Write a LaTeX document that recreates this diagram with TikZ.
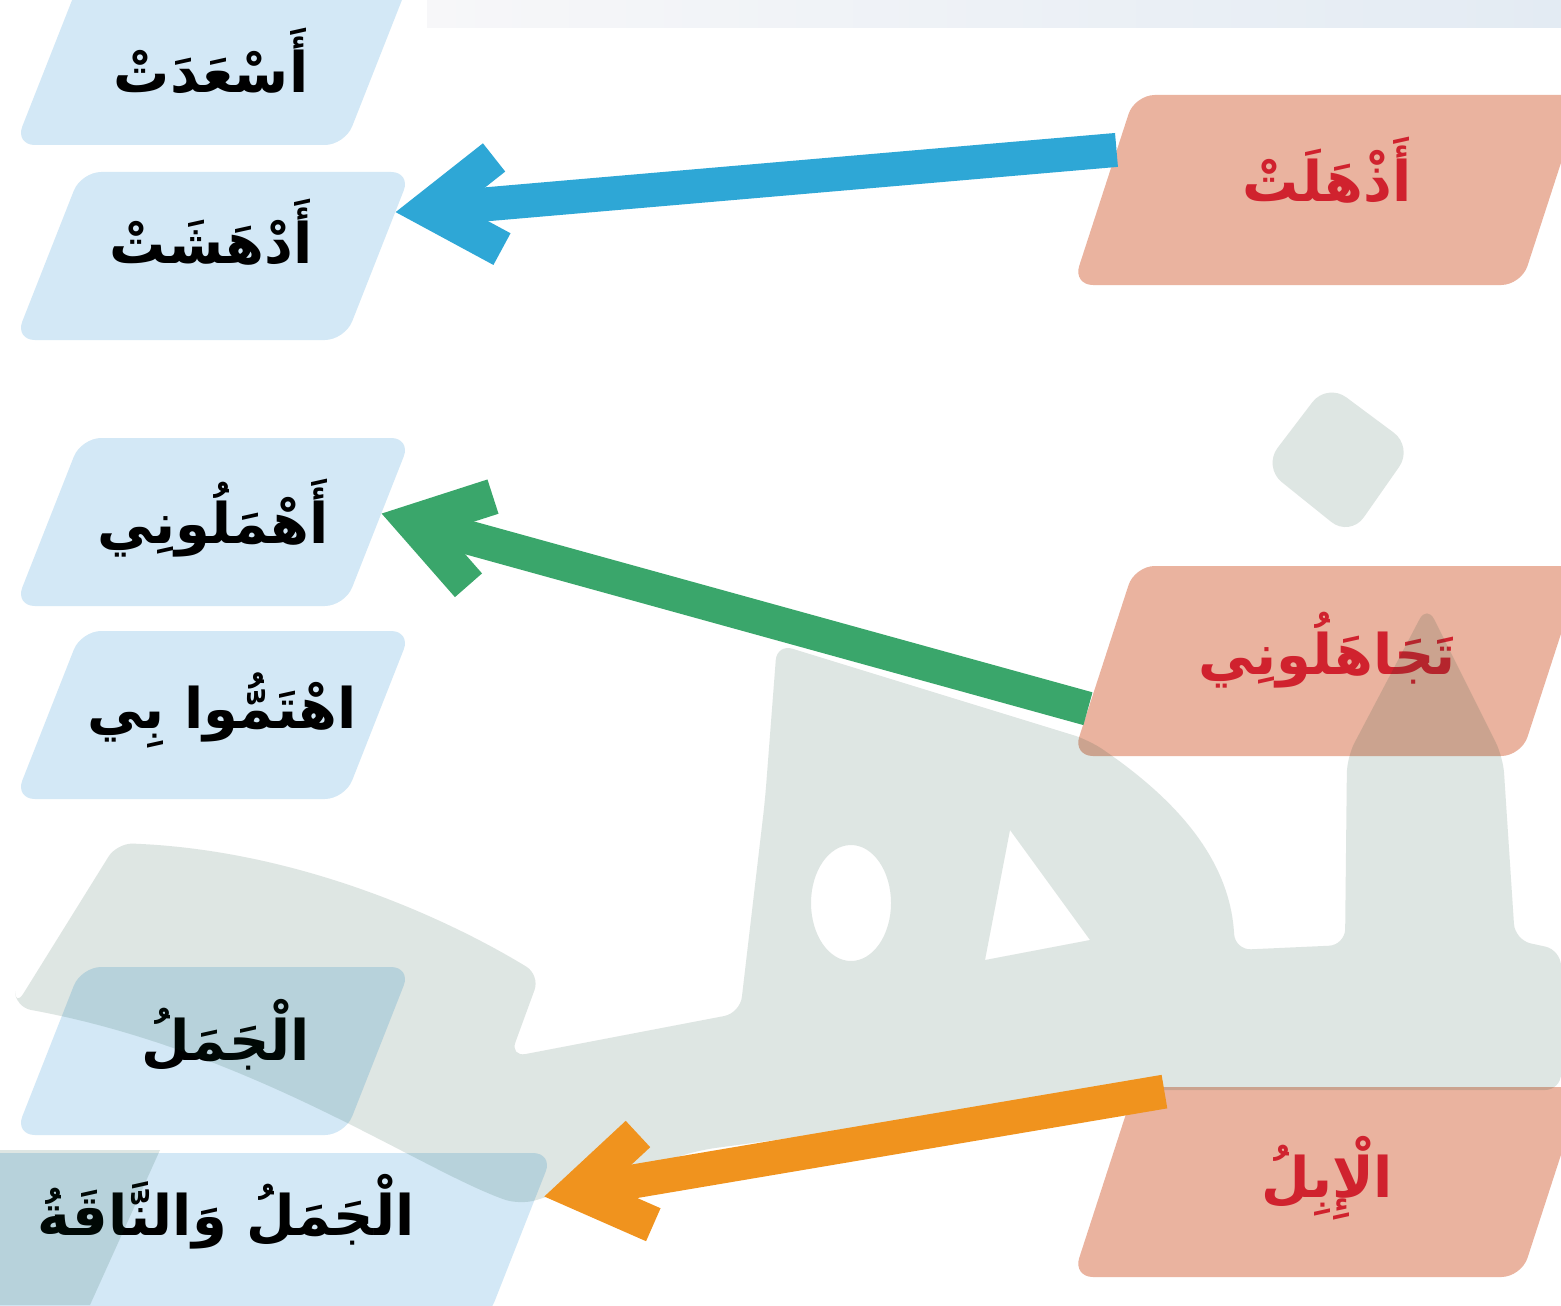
\documentclass[tikz,border=0pt]{standalone}
\usepackage{fontspec}
\usetikzlibrary{shapes.geometric,arrows.meta,calc}
\newfontfamily\arabicfont[Script=Arabic]{DejaVu Sans}
\TeXXeTstate=1
\definecolor{boxblue}{HTML}{D3E8F6}
\definecolor{boxsalmon}{HTML}{EAB39F}
\definecolor{txtred}{HTML}{D0222E}
\definecolor{arrblue}{HTML}{2EA7D6}
\definecolor{arrgreen}{HTML}{3AA66B}
\definecolor{arrorange}{HTML}{F0931E}
\definecolor{wmdark}{HTML}{003F28}
\definecolor{bandL}{HTML}{F7F7F9}
\definecolor{bandR}{HTML}{E3EBF3}
\newcommand\artxt[1]{\beginR #1\endR}
\tikzset{
  artext/.style={font=\arabicfont\bfseries\fontsize{28}{32}\selectfont, inner sep=0pt},
  lbox/.style={shape=trapezium, trapezium left angle=68.5, trapezium right angle=111.5,
    trapezium stretches body, fill=boxblue, rounded corners=10pt,
    minimum width=198pt, inner sep=0pt},
  rbox/.style={shape=trapezium, trapezium left angle=72, trapezium right angle=108,
    trapezium stretches body, fill=boxsalmon, rounded corners=10pt,
    minimum width=255pt, inner sep=0pt},
  ltext/.style={artext, text=black},
  rtext/.style={artext, text=txtred},
  conn/.style={line width=17pt, -{Straight Barb[length=35pt, width=46pt, line width=18pt]}},
  wm/.style={fill=wmdark, fill opacity=0.13},
}
\begin{document}
\begin{tikzpicture}[x=0.5pt,y=-0.5pt]
\useasboundingbox (0,0) rectangle (1561,1305);
\clip (0,0) rectangle (1561,1305);
\fill[white] (0,0) rectangle (1561,1305);
\shade[left color=bandL, right color=bandR] (427,0) rectangle (1561,28);

% left column boxes
\node[lbox] (l1) at (213,61)   {\rule{0pt}{84pt}};
\node[lbox] (l2) at (213,256)  {\rule{0pt}{84pt}};
\node[lbox] (l3) at (213,522)  {\rule{0pt}{84pt}};
\node[lbox] (l4) at (213,715)  {\rule{0pt}{84pt}};
\node[lbox] (l5) at (213,1051) {\rule{0pt}{84pt}};
\node[lbox, minimum width=325pt] (l6) at (228,1237) {\rule{0pt}{84pt}};

% right column boxes
\node[rbox] (r1) at (1328,190)  {\rule{0pt}{95pt}};
\node[rbox] (r2) at (1328,661)  {\rule{0pt}{95pt}};
\node[rbox] (r3) at (1328,1182) {\rule{0pt}{95pt}};

% texts
\node[ltext] (t1) at (211,61)   {\artxt{أَسْعَدَتْ}};
\node[ltext] (t2) at (211,232)  {\artxt{أَدْهَشَتْ}};
\node[ltext] (t3) at (213,518)  {\artxt{أَهْمَلُونِي}};
\node[ltext] (t4) at (222,710)  {\artxt{اهْتَمُّوا بِي}};
\node[ltext] (t5) at (226,1035) {\artxt{الْجَمَلُ}};
\node[ltext] (t6) at (226,1212) {\artxt{الْجَمَلُ وَالنَّاقَةُ}};
\node[rtext] (t7) at (1327,170)  {\artxt{أَذْهَلَتْ}};
\node[rtext] (t8) at (1327,650)  {\artxt{تَجَاهَلُونِي}};
\node[rtext] (t9) at (1327,1178) {\artxt{الْإِبِلُ}};

% watermark (drawn translucent over the boxes)
\fill[wm, rounded corners=12pt] (1327,383) -- (1413,447) -- (1350,537) -- (1263,467) -- cycle;
\fill[wm, even odd rule]
  [rounded corners=8pt]
  (15,1007) -- (117,843)
  .. controls (300,850) and (450,920) .. (540,975)
  -- (510,1057) -- (740,1013) -- (765,800) -- (777,644) -- (1089,740)
  .. controls (1177,800) and (1230,860) .. (1235,950)
  -- (1345,945) -- (1347,757) -- (1427,605) -- (1503,757) -- (1515,940)
  -- (1561,950) -- (1561,1090) -- (1150,1090) -- (700,1150) -- (520,1205)
  .. controls (420,1170) and (250,1050) .. (15,1007) -- cycle
  [sharp corners]
  (851,903) ellipse [x radius=20pt, y radius=29pt]
  (1010,830) -- (1090,940) -- (985,960) -- cycle;
\fill[wm] (0,1150) -- (160,1150) -- (90,1305) -- (0,1305) -- cycle;

% connectors
\draw[conn, arrblue] ($(r1.top left corner)!0.29!(r1.bottom left corner)$)
  -- ($(l2.top right corner)!0.24!(l2.bottom right corner)$);
\draw[conn, arrgreen] ($(r2.top left corner)!0.75!(r2.bottom left corner)$)
  -- ($(l3.top right corner)!0.45!(l3.bottom right corner)$);
\draw[conn, arrorange] ($(r3.top left corner)+(30,5)$)
  -- ($($(l6.top right corner)!0.26!(l6.bottom right corner)$)+(8,0)$);
\end{tikzpicture}
\end{document}
